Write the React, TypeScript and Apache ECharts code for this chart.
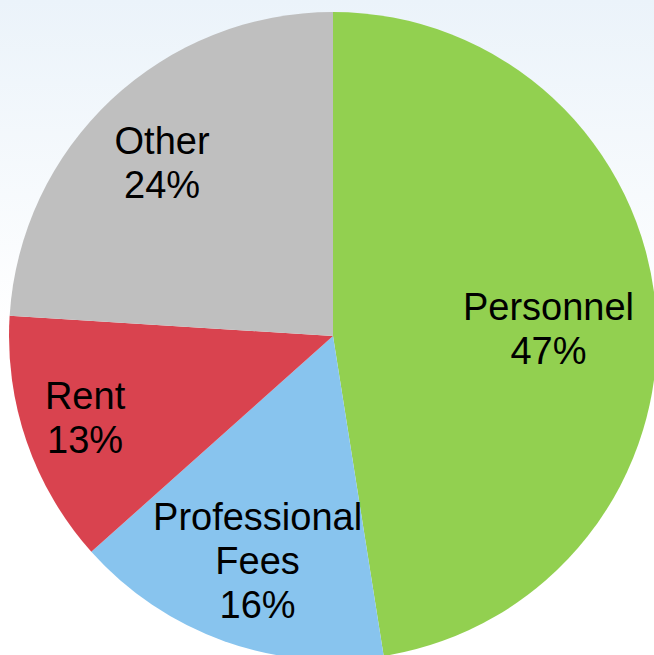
import React, { useEffect, useRef } from "react";
import * as echarts from "echarts";

const categories = ["Personnel", "Professional\nFees", "Rent", "Other"];
const values = [47.5, 15.9, 12.6, 24.0];
const colors = ["#92D050", "#88C4EE", "#D9434F", "#BFBFBF"];
// label nudges (dx, dy) from the default inside position
const labelShift: [number, number][] = [
  [51, 6],
  [-20, 70],
  [-92, 28],
  [-58, -53],
];

export default function App() {
  const ref = useRef<HTMLDivElement>(null);
  useEffect(() => {
    if (!ref.current) return;
    const chart = echarts.init(ref.current, null, { renderer: "svg" });
    chart.setOption({
      animation: false,
      backgroundColor: {
        type: "linear",
        x: 0,
        y: 0,
        x2: 0,
        y2: 1,
        colorStops: [
          { offset: 0, color: "#EBF3FA" },
          { offset: 0.5, color: "#FFFFFF" },
          { offset: 1, color: "#FFFFFF" },
        ],
      },
      series: [
        {
          type: "pie",
          center: [333, 336],
          radius: [0, 324],
          startAngle: 90,
          clockwise: true,
          percentPrecision: 0,
          avoidLabelOverlap: false,
          itemStyle: { borderWidth: 0 },
          label: {
            show: true,
            position: "inside",
            formatter: "{b}\n{d}%",
            fontFamily: "Liberation Sans, Arial, sans-serif",
            fontSize: 38,
            lineHeight: 44,
            color: "#000000",
            align: "center",
          },
          labelLine: { show: false },
          emphasis: { disabled: true },
          labelLayout: (p: any) => ({
            dx: labelShift[p.dataIndex][0],
            dy: labelShift[p.dataIndex][1],
          }),
          data: categories.map((name, i) => ({
            name,
            value: values[i],
            itemStyle: { color: colors[i] },
          })),
        },
      ],
    });
    return () => chart.dispose();
  }, []);
  return (
    <div
      ref={ref}
      style={{ position: "fixed", left: 0, top: 0, width: 654, height: 655 }}
    />
  );
}
